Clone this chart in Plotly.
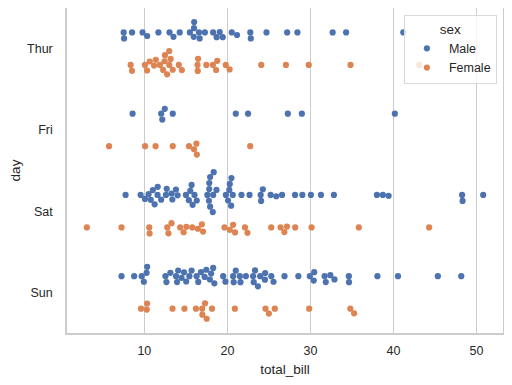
import numpy as np
import plotly.graph_objects as go

days = ["Thur", "Fri", "Sat", "Sun"]
sexes = ["Male", "Female"]
colors = {"Male": "#4C72B0", "Female": "#DD8452"}

thur_male = [27.2, 22.76, 17.29, 19.44, 16.66, 32.68, 15.98, 13.03, 18.28, 24.71, 21.16, 11.69, 14.26, 15.95, 8.52,
             22.82, 19.08, 16.0, 34.3, 41.19, 9.78, 7.51, 28.44, 15.48, 16.58, 7.56, 10.34, 13.51, 18.71, 20.53]
thur_female = [10.07, 34.83, 10.65, 12.43, 24.08, 13.42, 12.48, 29.8, 14.52, 11.38, 20.27, 11.17, 12.26, 18.26, 8.51,
               10.33, 14.15, 13.16, 17.47, 27.05, 16.43, 8.35, 18.64, 11.87, 19.81, 43.11, 13.0, 12.74, 13.0, 16.4,
               16.47, 18.78]
fri_male = [28.97, 22.49, 40.17, 27.28, 12.03, 21.01, 12.46, 12.16, 8.58, 13.42]
fri_female = [5.75, 16.32, 22.75, 11.35, 15.38, 13.42, 15.98, 16.27, 10.09]
sat_male = [20.65, 17.92, 39.42, 19.82, 17.81, 13.37, 12.69, 21.7, 9.55, 18.35, 17.78, 24.06, 16.31, 18.69, 31.27,
            16.04, 38.01, 11.24, 48.27, 20.29, 13.81, 11.02, 18.29, 17.59, 20.08, 20.23, 15.01, 12.02, 10.51, 17.92,
            15.36, 20.49, 25.21, 18.24, 14.0, 15.81, 50.81, 26.59, 38.73, 24.27, 30.06, 25.89, 48.33, 28.15, 11.59,
            7.74, 20.45, 13.28, 24.01, 15.69, 11.61, 10.77, 15.53, 10.07, 12.6, 32.83, 29.03, 22.67, 17.82]
sat_female = [20.29, 15.77, 19.65, 15.06, 20.69, 16.93, 26.41, 16.45, 3.07, 17.07, 26.86, 25.28, 14.73, 44.3, 22.42,
              20.92, 14.31, 7.25, 10.59, 10.63, 12.76, 13.27, 28.17, 12.9, 30.14, 22.12, 35.83, 27.18]
sun_male = [10.34, 21.01, 23.68, 25.29, 8.77, 26.88, 15.04, 14.78, 10.27, 15.42, 18.43, 21.58, 16.29, 17.46, 13.94,
            9.68, 30.4, 18.29, 22.23, 32.4, 28.55, 18.04, 12.54, 9.94, 25.56, 19.49, 38.07, 23.95, 29.93, 14.07,
            13.13, 17.26, 24.55, 19.77, 48.17, 16.49, 21.5, 12.66, 13.81, 24.52, 20.76, 31.71, 7.25, 31.85, 16.82,
            32.9, 17.89, 14.48, 34.63, 34.65, 23.33, 45.35, 23.17, 40.55, 20.69, 30.46, 23.1, 15.69]
sun_female = [16.99, 24.59, 35.26, 14.83, 10.33, 16.97, 10.29, 34.81, 25.71, 17.31, 29.85, 25.0, 13.39, 16.21,
              17.51, 9.6, 20.9, 18.15]

data = {
    ("Thur", "Male"): thur_male, ("Thur", "Female"): thur_female,
    ("Fri", "Male"): fri_male, ("Fri", "Female"): fri_female,
    ("Sat", "Male"): sat_male, ("Sat", "Female"): sat_female,
    ("Sun", "Male"): sun_male, ("Sun", "Female"): sun_female,
}

# layout geometry (pixels); the page body adds an 8px offset, so the figure is 8px smaller
PAGE_OFF = 8
W, H = 512 - PAGE_OFF, 385 - PAGE_OFF
ML, MR, MT, MB = 67 - PAGE_OFF, 9, 8 - PAGE_OFF, 51.5
x_range = [0.683, 53.197]
px_per_val = (W - ML - MR) / (x_range[1] - x_range[0])
px_per_cat = (H - MT - MB) / 4.0
R = 2.9  # marker radius in px used for swarm layout


def beeswarm(vals, r, scale):
    pos = np.asarray(vals, dtype=float) * scale
    order = np.argsort(pos, kind="stable")
    swarm = []
    out = np.zeros(len(pos))
    for idx in order:
        v = pos[idx]
        neighbors = []
        for cj, vj in reversed(swarm):
            if v - vj < 2 * r:
                neighbors.append((cj, vj))
            else:
                break
        if not neighbors:
            c = 0.0
        else:
            cands = [0.0]
            left_first = True
            for cj, vj in neighbors:
                dy = v - vj
                dx = np.sqrt(max(4 * r * r - dy * dy, 0)) * 1.05
                cl, cr = cj - dx, cj + dx
                cands.extend([cl, cr] if left_first else [cr, cl])
                left_first = not left_first
            cands = sorted(cands, key=abs)
            c = cands[-1]
            for cand in cands:
                ok = all((cj - cand) ** 2 + (vj - v) ** 2 >= (2 * r) ** 2 for cj, vj in neighbors)
                if ok:
                    c = cand
                    break
        swarm.append((c, v))
        out[idx] = c
    return out


fig = go.Figure()
for si, sex in enumerate(sexes):
    xs, ys = [], []
    for di, day in enumerate(days):
        vals = data[(day, sex)]
        center = di + (-0.2 if sex == "Male" else 0.2)
        offs = beeswarm(vals, R, px_per_val)
        xs.extend(vals)
        ys.extend(list(center - offs / px_per_cat))
    fig.add_trace(go.Scatter(
        x=xs, y=ys, mode="markers", name=sex,
        marker=dict(color=colors[sex], size=6.2, line=dict(width=0)),
    ))

font_family = "Liberation Sans, Arial, sans-serif"
fig.update_layout(
    width=W, height=H,
    margin=dict(l=ML, r=MR, t=MT, b=MB, autoexpand=False),
    paper_bgcolor="white", plot_bgcolor="white",
    font=dict(family=font_family, color="#262626", size=12.5),
    xaxis=dict(
        range=x_range, tickvals=[10, 20, 30, 40, 50], showgrid=True, gridcolor="#cccccc", gridwidth=1,
        zeroline=False, showline=True, mirror=True, linecolor="#cccccc", linewidth=1.5,
        ticks="outside", ticklen=5, tickcolor="rgba(0,0,0,0)", automargin=False,
        title=dict(text="total_bill", font=dict(size=13.5), standoff=8),
        tickfont=dict(size=12.5),
    ),
    yaxis=dict(
        range=[3.5, -0.5], tickvals=[0, 1, 2, 3], ticktext=days, showgrid=False,
        zeroline=False, showline=True, mirror=True, linecolor="#cccccc", linewidth=1.5,
        ticks="outside", ticklen=10, tickcolor="rgba(0,0,0,0)", automargin=False,
        title=dict(text="day", font=dict(size=13.5), standoff=11),
        tickfont=dict(size=12.5),
    ),
    legend=dict(
        x=0.986, y=0.978, xanchor="right", yanchor="top",
        bgcolor="rgba(255,255,255,0.8)", bordercolor="#d9d9d9", borderwidth=1,
        title=dict(text="sex", side="top center", font=dict(size=13.5)),
        font=dict(size=12.5), itemsizing="trace", itemwidth=34,
    ),
)

fig.write_html("out.html")
